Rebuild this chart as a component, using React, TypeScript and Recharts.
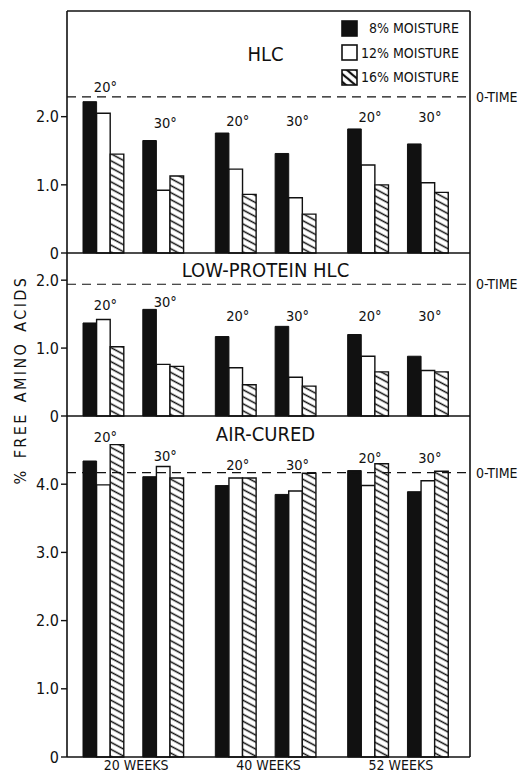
import React from "react";
import {
  BarChart,
  Bar,
  XAxis,
  YAxis,
  ReferenceLine,
  ReferenceArea,
  LabelList,
  Legend,
} from "recharts";

// storage times (x categories) and storage temperatures (two groups per time)
const weeks = ["20 WEEKS", "40 WEEKS", "52 WEEKS"];
const temps = ["20°", "30°"];
const moisture = ["8% MOISTURE", "12% MOISTURE", "16% MOISTURE"];

// values in order: 20wk-20°, 20wk-30°, 40wk-20°, 40wk-30°, 52wk-20°, 52wk-30°
const hlc8 = [2.22, 1.65, 1.76, 1.46, 1.82, 1.6];
const hlc12 = [2.05, 0.92, 1.23, 0.81, 1.29, 1.03];
const hlc16 = [1.45, 1.13, 0.86, 0.57, 1.0, 0.89];
const hlcZero = 2.29;
const hlcTempAt = [2.36, 1.84, 1.86, 1.86, 1.92, 1.92];

const lowProt8 = [1.37, 1.57, 1.17, 1.32, 1.2, 0.88];
const lowProt12 = [1.42, 0.76, 0.71, 0.57, 0.88, 0.67];
const lowProt16 = [1.02, 0.73, 0.46, 0.44, 0.65, 0.65];
const lowProtZero = 1.94;
const lowProtTempAt = [1.56, 1.61, 1.4, 1.4, 1.4, 1.4];

const air8 = [4.34, 4.11, 3.98, 3.85, 4.2, 3.89];
const air12 = [3.99, 4.26, 4.09, 3.9, 3.98, 4.05];
const air16 = [4.58, 4.09, 4.09, 4.16, 4.3, 4.19];
const airZero = 4.17;
const airTempAt = [4.62, 4.34, 4.21, 4.21, 4.31, 4.31];

const FONT = '"DejaVu Sans Condensed", "Liberation Sans Narrow", "DejaVu Sans", sans-serif';
const INK = "#111";

function buildRows(s8: number[], s12: number[], s16: number[]) {
  return weeks.map((week, i) => ({
    week,
    b20: s8[2 * i],
    w20: s12[2 * i],
    h20: s16[2 * i],
    gap: null,
    b30: s8[2 * i + 1],
    w30: s12[2 * i + 1],
    h30: s16[2 * i + 1],
  }));
}

const fmtTick = (v: number) => (v === 0 ? "0" : v.toFixed(1));

// temperature label above a group, height given in data units
function tempLabel(levels: number[], offset: number, text: string) {
  return (props: any) => {
    const vb = props.viewBox ?? props;
    const x = Number(vb.x ?? props.x);
    const y = Number(vb.y ?? props.y);
    const w = Number(vb.width ?? props.width);
    const h = Number(vb.height ?? props.height);
    const v = Number(props.value);
    const i = Number(props.index);
    if (!v || !h || Number.isNaN(i)) return null;
    const ty = y + h - levels[2 * i + offset] * (h / v);
    return (
      <text
        key={`t-${text}-${i}`}
        x={x + w / 2 + 2}
        y={ty}
        textAnchor="middle"
        fontFamily={FONT}
        fontSize={14.5}
        fill={INK}
      >
        {text}
      </text>
    );
  };
}

function Swatch({ kind }: { kind: string }) {
  return (
    <svg width={18} height={17} style={{ display: "block" }}>
      <defs>
        <pattern
          id="legend-hatch"
          patternUnits="userSpaceOnUse"
          width={6}
          height={6}
          patternTransform="rotate(-50)"
        >
          <rect width={6} height={6} fill="#fff" />
          <line x1={3} y1={0} x2={3} y2={6} stroke={INK} strokeWidth={2.2} />
        </pattern>
      </defs>
      <rect
        x={1}
        y={1}
        width={15}
        height={15}
        fill={kind === "b20" ? INK : kind === "w20" ? "#fff" : "url(#legend-hatch)"}
        stroke={INK}
        strokeWidth={1.6}
      />
    </svg>
  );
}

function MoistureLegend({ payload }: any) {
  const order = ["b20", "w20", "h20"];
  const items = (payload ?? [])
    .filter((p: any) => order.includes(p.dataKey))
    .sort((a: any, b: any) => order.indexOf(a.dataKey) - order.indexOf(b.dataKey));
  return (
    <div style={{ fontFamily: FONT, fontSize: 14, color: INK }}>
      {items.map((p: any) => (
        <div key={p.dataKey} style={{ display: "flex", alignItems: "center", height: 24.5 }}>
          <Swatch kind={p.dataKey} />
          <span style={{ width: 100, textAlign: "right", whiteSpace: "nowrap" }}>{p.value}</span>
        </div>
      ))}
    </div>
  );
}

type PanelProps = {
  id: string;
  title: string;
  titleOffset: number;
  s8: number[];
  s12: number[];
  s16: number[];
  zero: number;
  tempAt: number[];
  yMax: number;
  ticks: number[];
  top: number;
  height: number;
  margin: { top: number; right: number; bottom: number; left: number };
  last?: boolean;
  legend?: boolean;
};

function Panel(p: PanelProps) {
  const rows = buildRows(p.s8, p.s12, p.s16);
  const hatch = `hatch-${p.id}`;
  const frame = { stroke: INK, strokeWidth: 1.6 };
  const barW = 13.6;
  return (
    <div style={{ position: "absolute", left: 0, top: p.top }}>
      <BarChart width={526} height={p.height} data={rows} margin={p.margin} barGap={0}>
        <defs>
          <pattern
            id={hatch}
            patternUnits="userSpaceOnUse"
            width={6.2}
            height={6.2}
            patternTransform="rotate(-62)"
          >
            <rect width={6.2} height={6.2} fill="#fff" />
            <line x1={3.1} y1={0} x2={3.1} y2={6.2} stroke={INK} strokeWidth={1.5} />
          </pattern>
        </defs>
        <XAxis
          dataKey="week"
          hide={!p.last}
          padding={{ left: 0, right: 6 }}
          axisLine={frame}
          tickLine={false}
          tickSize={2}
          tickMargin={1}
          height={20}
          tick={{ fill: INK, fontSize: 14, fontFamily: FONT, dx: 3 }}
        />
        <XAxis
          xAxisId="frame"
          dataKey="week"
          orientation="top"
          height={1}
          tick={false}
          tickLine={false}
          axisLine={frame}
        />
        <YAxis
          domain={[0, p.yMax]}
          ticks={p.ticks}
          tickFormatter={fmtTick}
          width={67}
          axisLine={frame}
          tickLine={{ stroke: INK, strokeWidth: 1.4 }}
          tickSize={6}
          tickMargin={2}
          tick={{ fill: INK, fontSize: 16, fontFamily: FONT }}
        />
        <YAxis
          yAxisId="frame"
          orientation="right"
          width={1}
          tick={false}
          tickLine={false}
          axisLine={frame}
        />
        <ReferenceArea
          x1={weeks[0]}
          x2={weeks[weeks.length - 1]}
          y1={0}
          y2={p.yMax}
          fill="none"
          stroke="none"
          label={{
            value: p.title,
            position: "insideTop",
            offset: p.titleOffset,
            fill: INK,
            fontSize: 20,
            fontFamily: FONT,
          }}
        />
        <ReferenceLine
          y={p.zero}
          stroke={INK}
          strokeWidth={1.2}
          strokeDasharray="9 6"
          label={{
            value: "0-TIME",
            position: "right",
            offset: 6,
            fill: INK,
            fontSize: 14,
            fontFamily: FONT,
          }}
        />
        <Bar dataKey="b20" name={moisture[0]} fill={INK} stroke={INK} barSize={barW} isAnimationActive={false} />
        <Bar dataKey="w20" name={moisture[1]} fill="#fff" stroke={INK} strokeWidth={1.4} barSize={barW} isAnimationActive={false}>
          <LabelList dataKey="w20" content={tempLabel(p.tempAt, 0, temps[0])} />
        </Bar>
        <Bar dataKey="h20" name={moisture[2]} fill={`url(#${hatch})`} stroke={INK} strokeWidth={1.4} barSize={barW} isAnimationActive={false} />
        <Bar dataKey="gap" legendType="none" fill="none" barSize={19} isAnimationActive={false} />
        <Bar dataKey="b30" legendType="none" fill={INK} stroke={INK} barSize={barW} isAnimationActive={false} />
        <Bar dataKey="w30" legendType="none" fill="#fff" stroke={INK} strokeWidth={1.4} barSize={barW} isAnimationActive={false}>
          <LabelList dataKey="w30" content={tempLabel(p.tempAt, 1, temps[1])} />
        </Bar>
        <Bar dataKey="h30" legendType="none" fill={`url(#${hatch})`} stroke={INK} strokeWidth={1.4} barSize={barW} isAnimationActive={false} />
        {p.legend && (
          <Legend
            layout="vertical"
            align="center"
            verticalAlign="middle"
            itemSorter={null as any}
            wrapperStyle={{ top: 16, left: 341, width: "auto" }}
            content={(props: any) => <MoistureLegend payload={props.payload} />}
          />
        )}
      </BarChart>
    </div>
  );
}

export default function App() {
  return (
    <div
      style={{
        position: "absolute",
        left: 0,
        top: 0,
        width: 526,
        height: 777,
        background: "#fff",
        fontFamily: FONT,
      }}
    >
      <Panel
        id="hlc"
        title="HLC"
        titleOffset={36}
        s8={hlc8}
        s12={hlc12}
        s16={hlc16}
        zero={hlcZero}
        tempAt={hlcTempAt}
        yMax={3.55}
        ticks={[0, 1, 2]}
        top={0}
        height={263}
        margin={{ top: 10, right: 55, bottom: 10, left: 0 }}
        legend
      />
      <Panel
        id="lowprot"
        title="LOW-PROTEIN HLC"
        titleOffset={10}
        s8={lowProt8}
        s12={lowProt12}
        s16={lowProt16}
        zero={lowProtZero}
        tempAt={lowProtTempAt}
        yMax={2.4}
        ticks={[0, 1, 2]}
        top={243}
        height={183}
        margin={{ top: 9, right: 55, bottom: 10, left: 0 }}
      />
      <Panel
        id="air"
        title="AIR-CURED"
        titleOffset={11}
        s8={air8}
        s12={air12}
        s16={air16}
        zero={airZero}
        tempAt={airTempAt}
        yMax={5}
        ticks={[0, 1, 2, 3, 4]}
        top={406}
        height={371}
        margin={{ top: 9, right: 55, bottom: 0, left: 0 }}
        last
      />
      <div
        style={{
          position: "absolute",
          left: 20,
          top: 380,
          transform: "translate(-50%, -50%) rotate(-90deg)",
          whiteSpace: "nowrap",
          fontSize: 16,
          letterSpacing: 2.4,
          wordSpacing: 3,
          color: INK,
        }}
      >
        % FREE AMINO ACIDS
      </div>
    </div>
  );
}
